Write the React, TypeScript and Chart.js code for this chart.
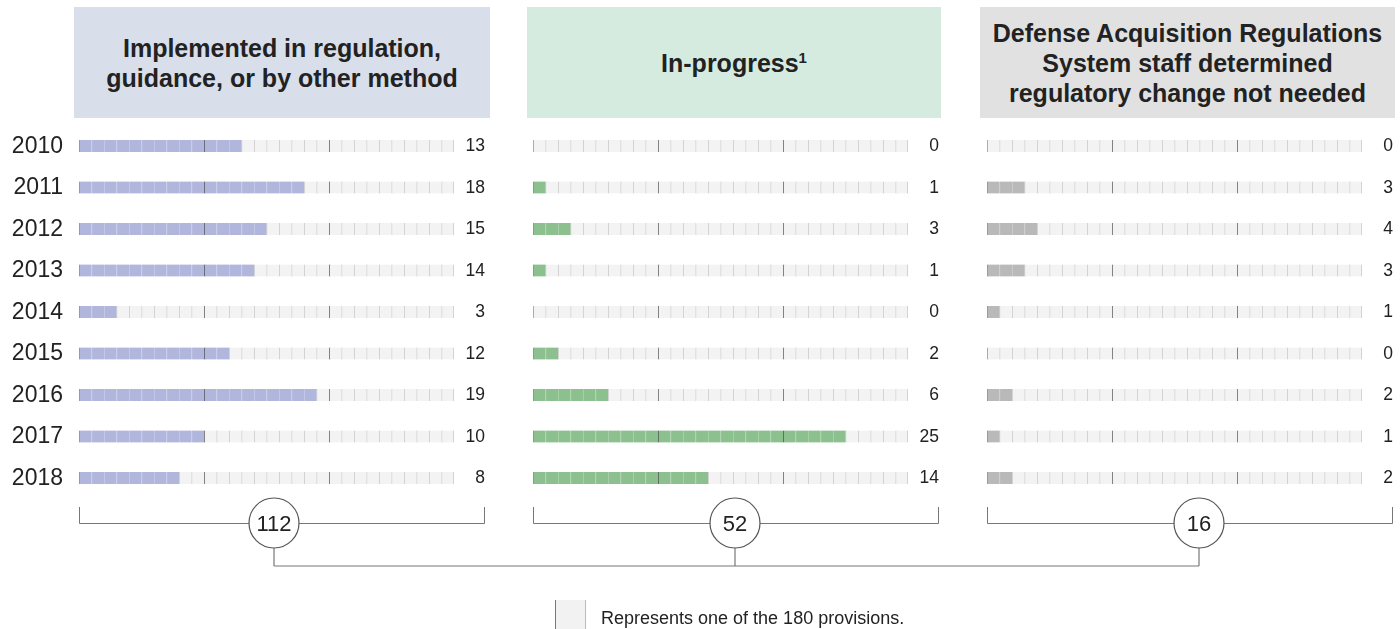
import React, { useEffect, useRef } from "react";
import { Chart, registerables } from "chart.js";

Chart.register(...registerables);

// ---- Data ----
const years = ["2010", "2011", "2012", "2013", "2014", "2015", "2016", "2017", "2018"];
const implemented = [13, 18, 15, 14, 3, 12, 19, 10, 8];
const inProgress = [0, 1, 3, 1, 0, 2, 6, 25, 14];
const notNeeded = [0, 3, 4, 3, 1, 0, 2, 1, 2];
const cellsPerRow = 30;
const legendText = "Represents one of the 180 provisions.";

const FONT = '"Liberation Sans", Arial, Helvetica, sans-serif';
const EMPTY = "#f3f3f3";

type PanelDef = {
  values: number[];
  fill: string;
  sepFill: string;
  plotLeft: number;
  showYears: boolean;
};

const CANVAS_W = 500;
const PLOT_W = 375;
const PAD_LEFT = 79;
const CANVAS_TOP = 100;
const CANVAS_H = 420;
const PAD_TOP = 25.25;
const PLOT_H = 373.5;

function Panel({ def }: { def: PanelDef }) {
  const ref = useRef<HTMLCanvasElement | null>(null);
  useEffect(() => {
    if (!ref.current) return;
    const { values, fill, sepFill, showYears } = def;
    const datasets = Array.from({ length: cellsPerRow }, (_, k) => ({
      data: values.map(() => 1),
      backgroundColor: values.map((v) => (k < v ? fill : EMPTY)),
      borderColor: values.map((v) =>
        k % 10 === 0 ? (k === 0 ? "#8a8a8a" : "#4a4a4a") : k < v ? sepFill : "#c4c4c4"
      ),
      borderWidth: { left: 1, top: 0, bottom: 0, right: k === cellsPerRow - 1 ? 1 : 0 },
      borderSkipped: false as const,
      barThickness: 12,
    }));
    const labelPlugin = {
      id: "rowLabels",
      afterDraw(chart: any) {
        const ctx = chart.ctx;
        const ys = chart.scales.y;
        const area = chart.chartArea;
        ctx.save();
        ctx.fillStyle = "#222";
        ctx.textBaseline = "middle";
        for (let i = 0; i < years.length; i++) {
          const y = ys.getPixelForValue(i);
          ctx.font = `17.5px ${FONT}`;
          ctx.textAlign = "right";
          ctx.fillText(String(values[i]), area.right + 31, y + 0.5);
          if (showYears) {
            ctx.font = `23px ${FONT}`;
            ctx.fillText(years[i], area.left - 16, y + 0.5);
          }
        }
        ctx.restore();
      },
    };
    const chart = new Chart(ref.current, {
      type: "bar",
      data: { labels: years, datasets: datasets as any },
      options: {
        indexAxis: "y",
        animation: false,
        responsive: true,
        maintainAspectRatio: false,
        events: [],
        layout: {
          padding: {
            left: PAD_LEFT,
            right: CANVAS_W - PAD_LEFT - PLOT_W,
            top: PAD_TOP,
            bottom: CANVAS_H - PAD_TOP - PLOT_H,
          },
        },
        plugins: { legend: { display: false }, tooltip: { enabled: false } },
        scales: {
          x: { type: "linear", stacked: true, min: 0, max: cellsPerRow, display: false },
          y: { type: "category", stacked: true, display: false },
        },
      },
      plugins: [labelPlugin],
    });
    return () => chart.destroy();
  }, [def]);
  return (
    <div
      style={{
        position: "absolute",
        left: def.plotLeft - PAD_LEFT,
        top: CANVAS_TOP,
        width: CANVAS_W,
        height: CANVAS_H,
      }}
    >
      <canvas ref={ref} />
    </div>
  );
}

const panels: PanelDef[] = [
  { values: implemented, fill: "#b1b6dc", sepFill: "#cdd0ea", plotLeft: 79, showYears: true },
  { values: inProgress, fill: "#8dc08f", sepFill: "#b3d6b4", plotLeft: 533, showYears: false },
  { values: notNeeded, fill: "#b9b9b9", sepFill: "#d3d3d3", plotLeft: 987, showYears: false },
];

const headers = [
  { left: 74, width: 416, bg: "#d8dfeb", lines: ["Implemented in regulation,", "guidance, or by other method"] },
  { left: 527, width: 414, bg: "#d5ebdf", lines: ["In-progress"] },
  {
    left: 980,
    width: 415,
    bg: "#e1e1e1",
    lines: ["Defense Acquisition Regulations", "System staff determined", "regulatory change not needed"],
  },
];

const circleCenters = [274, 735, 1199];

export default function App() {
  const lineY = 523;
  const connectY = 566;
  const r = 25;
  return (
    <div
      style={{
        position: "fixed",
        left: 0,
        top: 0,
        width: 1400,
        height: 629,
        background: "#fff",
        fontFamily: FONT,
        overflow: "hidden",
      }}
    >
      {headers.map((h, i) => (
        <div
          key={i}
          style={{
            position: "absolute",
            left: h.left,
            top: 7,
            width: h.width,
            height: 111,
            background: h.bg,
            display: "flex",
            flexDirection: "column",
            alignItems: "center",
            justifyContent: "center",
            fontWeight: "bold",
            fontSize: 25,
            lineHeight: "30px",
            color: "#222",
            textAlign: "center",
            whiteSpace: "nowrap",
          }}
        >
          {h.lines.map((l, j) => (
            <div key={j}>
              {l}
              {i === 1 ? <sup style={{ fontSize: 15, verticalAlign: "9px", lineHeight: 0 }}>1</sup> : null}
            </div>
          ))}
        </div>
      ))}
      {panels.map((p, i) => (
        <Panel key={i} def={p} />
      ))}
      <svg
        width={1400}
        height={629}
        style={{ position: "absolute", left: 0, top: 0, pointerEvents: "none" }}
      >
        {panels.map((p, i) => {
          const x0 = p.plotLeft;
          const x1 = p.plotLeft + PLOT_W + 31;
          const cx = circleCenters[i];
          const total = p.values.reduce((a, b) => a + b, 0);
          return (
            <g key={i}>
              <path
                d={`M${x0 + 0.5} 507 V${lineY + 0.5} H${x1 - 0.5} V507`}
                fill="none"
                stroke="#777"
                strokeWidth={1}
              />
              <line x1={cx} y1={lineY + r} x2={cx} y2={connectY} stroke="#777" strokeWidth={1.2} />
              <circle cx={cx} cy={lineY} r={r} fill="#fff" stroke="#555" strokeWidth={1.2} />
              <text
                x={cx}
                y={lineY + 8}
                textAnchor="middle"
                fontSize={22}
                fontFamily={FONT}
                fill="#222"
              >
                {total}
              </text>
            </g>
          );
        })}
        <line
          x1={circleCenters[0]}
          y1={connectY}
          x2={circleCenters[2]}
          y2={connectY}
          stroke="#777"
          strokeWidth={1.2}
        />
        <rect x={555} y={600} width={30} height={35} fill="#f2f2f2" />
        <line x1={555.5} y1={600} x2={555.5} y2={629} stroke="#777" strokeWidth={1} />
        <line x1={585.5} y1={600} x2={585.5} y2={629} stroke="#bbb" strokeWidth={1} />
        <text x={601} y={624} fontSize={18} fontFamily={FONT} fill="#222">
          {legendText}
        </text>
      </svg>
    </div>
  );
}
